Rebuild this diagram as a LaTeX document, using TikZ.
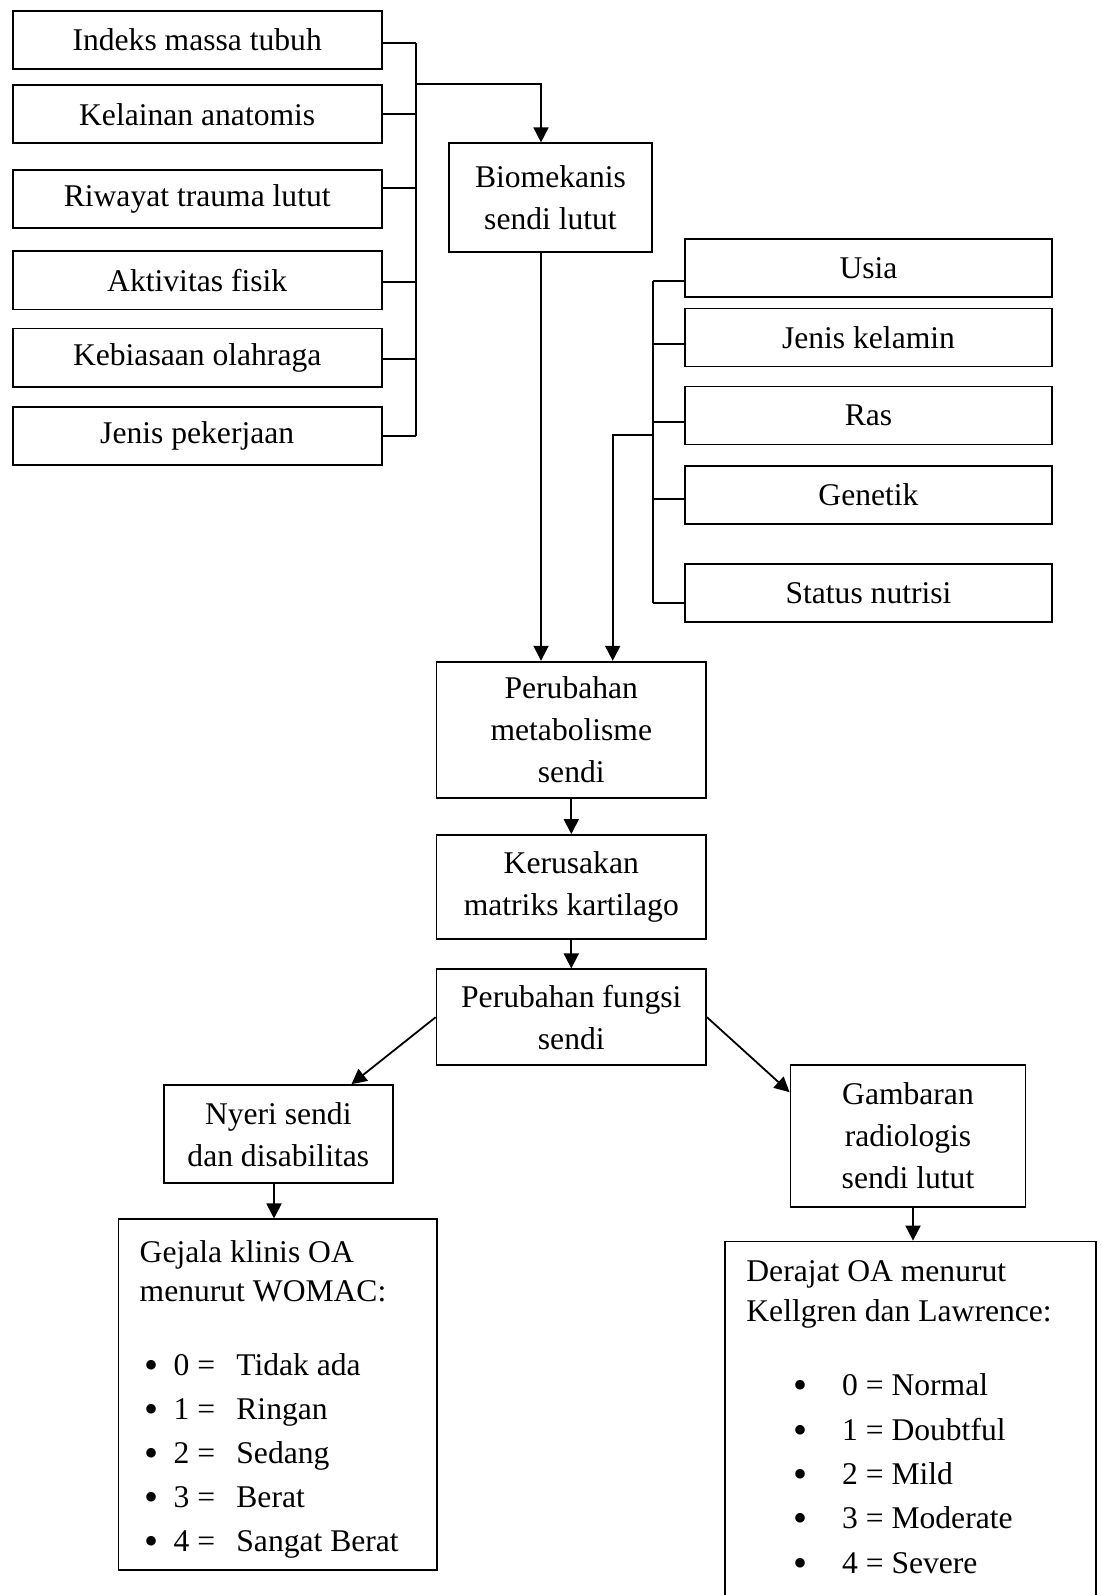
\documentclass[tikz,border=0pt]{standalone}
\usepackage{fontspec}
\setmainfont{Liberation Serif}
\usetikzlibrary{arrows.meta,calc}
\begin{document}
\begin{tikzpicture}[x=0.5pt,y=-0.5pt,
  box/.style={draw, line width=0.9pt, inner sep=0pt, align=center,
    font=\fontsize{15.8}{21}\selectfont},
  lbox/.style={box, minimum width=184.5pt, minimum height=29.15pt},
  rbox/.style={box, minimum width=183.5pt, minimum height=29pt},
  ln/.style={line width=0.9pt},
  arr/.style={ln, -{Triangle[length=7.5pt,width=7.5pt]}},
  txt/.style={anchor=base west, inner sep=0pt, font=\fontsize{15.8}{21}\selectfont},
  bul/.style={anchor=base, inner sep=0pt, font=\fontsize{20}{20}\selectfont}]
\useasboundingbox (0,0) rectangle (1102,1595);
\clip (0,0) rectangle (1102,1595);

% left factor boxes
\node[lbox] (b1) at (197.2,39.8) {Indeks massa tubuh};
\node[lbox] (b2) at (197.2,114.2) {Kelainan anatomis};
\node[lbox] (b3) at (197.2,198.8) {Riwayat trauma lutut};
\node[lbox] (b4) at (197.2,280.3) {Aktivitas fisik};
\node[lbox] (b5) at (197.2,357.7) {Kebiasaan olahraga};
\node[lbox] (b6) at (197.2,436) {Jenis pekerjaan};

% right factor boxes
\node[rbox] (r1) at (868.5,267.8) {Usia};
\node[rbox] (r2) at (868.5,337.4) {Jenis kelamin};
\node[rbox] (r3) at (868.5,415.5) {Ras};
\node[rbox] (r4) at (868.5,494.8) {Genetik};
\node[rbox] (r5) at (868.5,593.3) {Status nutrisi};

% main flow
\node[box, minimum width=101.75pt, minimum height=54.2pt] (bio) at (550.5,197.5) {Biomekanis\\sendi lutut};
\node[box, minimum width=134.75pt, minimum height=68.3pt] (pm) at (571.3,730) {Perubahan\\metabolisme\\sendi};
\node[box, minimum width=134.75pt, minimum height=52pt] (ker) at (571.3,887) {Kerusakan\\matriks kartilago};
\node[box, minimum width=134.75pt, minimum height=47.85pt] (pf) at (571.3,1017.2) {Perubahan fungsi\\sendi};
\node[box, minimum width=114.5pt, minimum height=49.15pt] (ny) at (278.3,1134.2) {Nyeri sendi\\dan disabilitas};
\node[box, minimum width=117.55pt, minimum height=70.85pt] (gam) at (908,1135.9) {Gambaran\\radiologis\\sendi lutut};
\node[draw, line width=0.9pt, inner sep=0pt, minimum width=159.1pt, minimum height=175.35pt] (gej) at (277.5,1394.7) {};
\node[draw, line width=0.9pt, inner sep=0pt, minimum width=185.5pt, minimum height=189.25pt] (der) at (910.5,1430.75) {};

% Gejala text
\node[txt] (g1) at (139.3,1262) {Gejala klinis OA};
\node[txt] (g2) at (139.3,1301) {menurut WOMAC:};
\foreach \yy/\nn/\tt [count=\i] in {1375/0/Tidak ada,1419/1/Ringan,1463/2/Sedang,1507/3/Berat,1551/4/Sangat Berat}{
  \node[bul] (gb\i) at (151.5,\yy+3) {•};
  \node[txt] (gn\i) at (173.3,\yy) {\nn\ =};
  \node[txt] (gt\i) at (236,\yy) {\tt};
}

% Derajat text
\node[txt] (d1) at (746,1281.7) {Derajat OA menurut};
\node[txt] (d2) at (746,1321.7) {Kellgren dan Lawrence:};
\foreach \yy/\tt [count=\i] in {1395/0 = Normal,1440/1 = Doubtful,1484/2 = Mild,1528.5/3 = Moderate,1573.5/4 = Severe}{
  \node[bul] (db\i) at (800,\yy+3) {•};
  \node[txt] (dt\i) at (841.7,\yy) {\tt};
}

% left bus
\coordinate (lbT) at (416,43.3);
\coordinate (lbB) at (416,435.7);
\coordinate (lbJ) at (416,84);
\draw[ln] (lbT) -- (lbB);
\draw[ln] (b1.east |- lbT) -- (lbT);
\draw[ln] (b2.east |- 0,114) -- (416,114);
\draw[ln] (b3.east |- 0,188.3) -- (416,188.3);
\draw[ln] (b4.east |- 0,281.7) -- (416,281.7);
\draw[ln] (b5.east |- 0,359) -- (416,359);
\draw[ln] (b6.east |- lbB) -- (lbB);
\draw[arr] (lbJ) -| ([xshift=-4.75pt]bio.north);

% bio -> pm
\draw[arr] ([xshift=-4.75pt]bio.south) -- ([xshift=-4.75pt]bio.south |- pm.north);

% right bus
\coordinate (rbT) at (652.7,281);
\coordinate (rbB) at (652.7,603);
\coordinate (rbJ) at (652.7,435);
\draw[ln] (rbT) -- (rbB);
\draw[ln] (r1.west |- rbT) -- (rbT);
\draw[ln] (r2.west |- 0,344) -- (652.7,344);
\draw[ln] (r3.west |- 0,422.3) -- (652.7,422.3);
\draw[ln] (r4.west |- 0,499) -- (652.7,499);
\draw[ln] (r5.west |- rbB) -- (rbB);
\draw[arr] (rbJ) -| ([xshift=20.7pt]pm.north);

% main chain
\draw[arr] (pm.south) -- (ker.north);
\draw[arr] (ker.south) -- (pf.north);
\draw[arr] (pf.west) -- ([xshift=36.6pt]ny.north);
\draw[arr] (pf.east) -- ([yshift=-14pt]gam.north west);
\draw[arr] ([xshift=-2.15pt]ny.south) -- ([xshift=-2.15pt]ny.south |- gej.north);
\draw[arr] ([xshift=2.5pt]gam.south) -- ([xshift=2.5pt]gam.south |- der.north);
\end{tikzpicture}
\end{document}
